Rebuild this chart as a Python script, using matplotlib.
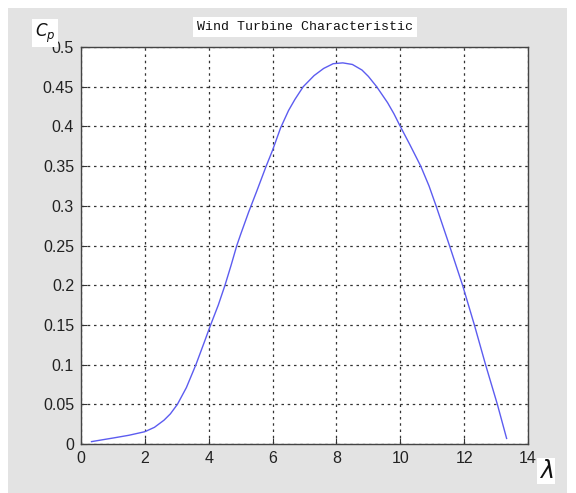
import matplotlib
matplotlib.use("Agg")
import matplotlib.pyplot as plt
from matplotlib.patches import Rectangle

# Data
tsr = [0.33, 0.7, 1.0, 1.5, 2.0, 2.3, 2.6, 2.8, 3.02, 3.3, 3.6, 3.85, 4.06,
       4.3, 4.51, 4.7, 4.88, 5.0, 5.25, 5.5, 5.8, 6.0, 6.25, 6.5, 6.7, 6.96,
       7.3, 7.6, 7.9, 8.2, 8.5, 8.8, 9.0, 9.26, 9.6, 9.8, 10.0, 10.3, 10.64,
       10.9, 11.12, 11.54, 11.95, 12.32, 12.67, 13.04, 13.33]
cp = [0.003, 0.0055, 0.0075, 0.011, 0.0155, 0.021, 0.030, 0.038, 0.05, 0.071,
      0.10, 0.127, 0.15, 0.175, 0.20, 0.225, 0.25, 0.264, 0.292, 0.318, 0.35,
      0.370, 0.398, 0.420, 0.434, 0.45, 0.464, 0.473, 0.479, 0.480, 0.478,
      0.471, 0.463, 0.45, 0.43, 0.416, 0.40, 0.377, 0.35, 0.325, 0.30, 0.25,
      0.20, 0.15, 0.10, 0.05, 0.007]
xticks = [0, 2, 4, 6, 8, 10, 12, 14]
yticks = [0, 0.05, 0.1, 0.15, 0.2, 0.25, 0.3, 0.35, 0.4, 0.45, 0.5]
ytick_labels = ["0", "0.05", "0.1", "0.15", "0.2", "0.25", "0.3", "0.35", "0.4", "0.45", "0.5"]

W, H = 576, 493
fig = plt.figure(figsize=(W / 100, H / 100), dpi=100, facecolor="white")
fig.patches.append(Rectangle((8 / W, 0), (567 - 8) / W, (H - 8) / H,
                             transform=fig.transFigure, facecolor="#e3e3e3",
                             edgecolor="none", zorder=-10))

ax = fig.add_axes([81 / W, 1 - 444 / H, (528 - 81) / W, (444 - 47) / H])
ax.set_facecolor("white")
ax.plot(tsr, cp, color="#5c5cf0", lw=1.0)
ax.set_xlim(0, 14)
ax.set_ylim(0, 0.5)
ax.set_xticks(xticks)
ax.set_yticks(yticks)
ax.set_yticklabels(ytick_labels)
ax.tick_params(direction="in", length=4, color="#333333", labelsize=11.5,
               labelcolor="#222222", pad=5)
for lab in ax.get_xticklabels() + ax.get_yticklabels():
    lab.set_fontfamily("Liberation Sans")
ax.grid(True, color="#333333", linestyle=(0, (2, 3)), linewidth=0.9)
for s in ax.spines.values():
    s.set_color("#444444")
    s.set_linewidth(1.0)

fig.text(305 / W, 1 - 27 / H, "Wind Turbine Characteristic", ha="center", va="center",
         family="Liberation Mono", fontsize=9.5, color="#111111",
         bbox=dict(facecolor="white", edgecolor="none", pad=3))
fig.text(45 / W, 1 - 33 / H, r"$C_{p}$", ha="center", va="center", fontsize=12,
         color="#111111", bbox=dict(facecolor="white", edgecolor="none", pad=2))
fig.text(546 / W, 1 - 471 / H, r"$\lambda$", ha="center", va="center", fontsize=17,
         color="#111111", bbox=dict(facecolor="white", edgecolor="none", pad=1))

fig.savefig("out.png", dpi=100, facecolor="white")
